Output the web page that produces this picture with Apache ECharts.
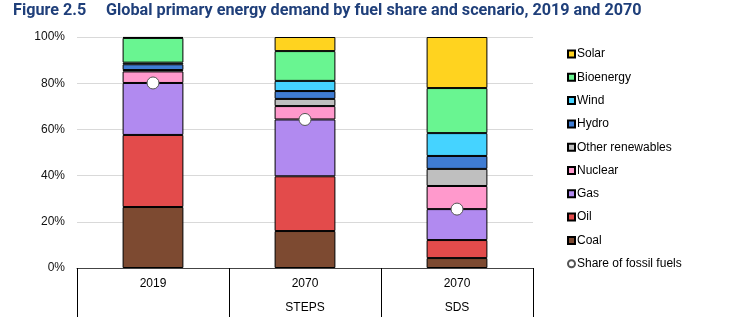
<!DOCTYPE html>
<html>
<head>
<meta charset="utf-8">
<script src="https://cdn.jsdelivr.net/npm/echarts@6/dist/echarts.min.js"></script>
<style>
html,body{margin:0;padding:0;background:#fff;}
#chart{width:733px;height:329px;}
</style>
</head>
<body>
<div id="chart"></div>
<script>
const categories = ['2019\n ', '2070\nSTEPS', '2070\nSDS'];
const coal = [26.4, 16.0, 4.3];
const oil = [31.2, 23.7, 7.8];
const gas = [22.5, 24.6, 13.4];
const nuclear = [5.0, 5.8, 10.0];
const otherRenewables = [0.6, 3.1, 7.4];
const hydro = [2.5, 3.4, 5.6];
const wind = [0.7, 4.4, 9.9];
const bioenergy = [10.7, 12.9, 19.5];
const solar = [0.4, 6.1, 22.1];
const fossilShare = [80.1, 64.3, 25.5];
const yTicks = [0, 20, 40, 60, 80, 100];

const stackDefs = [
  ['Coal', coal, '#7D4A31'],
  ['Oil', oil, '#E34B4B'],
  ['Gas', gas, '#B18AF0'],
  ['Nuclear', nuclear, '#FF99CC'],
  ['Other renewables', otherRenewables, '#BFBFBF'],
  ['Hydro', hydro, '#3F7CD3'],
  ['Wind', wind, '#45D3FF'],
  ['Bioenergy', bioenergy, '#69F591'],
  ['Solar', solar, '#FFD31F']
];

const series = stackDefs.map(([name, data, color]) => ({
  name, type: 'bar', stack: 'total', data, barWidth: '40%',
  itemStyle: { color, borderColor: '#000', borderWidth: 1 },
  emphasis: { disabled: true }
}));
series.push({
  name: 'Share of fossil fuels', type: 'scatter', data: fossilShare,
  symbol: 'circle', symbolSize: 12, z: 10,
  itemStyle: { color: '#fff', borderColor: '#555', borderWidth: 1, opacity: 1 },
  emphasis: { disabled: true }
});

const legendNames = ['Solar', 'Bioenergy', 'Wind', 'Hydro', 'Other renewables', 'Nuclear', 'Gas', 'Oil', 'Coal'];

const chart = echarts.init(document.getElementById('chart'), null, { renderer: 'canvas' });
chart.setOption({
  animation: false,
  title: [
    { text: 'Figure 2.5', left: 8, top: -2,
      textStyle: { fontFamily: 'Roboto', fontWeight: 'bold', fontSize: 16.2, color: '#1F3F7A' } },
    { text: 'Global primary energy demand by fuel share and scenario, 2019 and 2070', left: 101, top: -2,
      textStyle: { fontFamily: 'Roboto', fontWeight: 'bold', fontSize: 16.2, color: '#1F3F7A' } }
  ],
  grid: { left: 77, right: 200, top: 37, bottom: 61, containLabel: false },
  legend: {
    orient: 'vertical', left: 562, top: 42,
    itemWidth: 7, itemHeight: 7, itemGap: 9.3,
    textStyle: { fontFamily: 'Liberation Sans', fontSize: 12, color: '#000', lineHeight: 14, padding: [0, 0, 0, -3] },
    data: legendNames.map(n => ({ name: n, icon: 'rect' })).concat([{ name: 'Share of fossil fuels', icon: 'circle' }])
  },
  xAxis: {
    type: 'category', data: categories,
    axisLine: { lineStyle: { color: '#444', width: 1 } },
    axisTick: { show: true, alignWithLabel: false, interval: 0, length: 49, lineStyle: { color: '#000' } },
    axisLabel: { fontFamily: 'Liberation Sans', fontSize: 12, color: '#000', lineHeight: 24, margin: 4, interval: 0 }
  },
  yAxis: {
    type: 'value', min: 0, max: 100, interval: 20,
    axisLabel: { formatter: v => yTicks.includes(v) ? v + '%' : '', fontFamily: 'Liberation Sans', fontSize: 12, color: '#111', margin: 12 },
    splitLine: { lineStyle: { color: '#D9D9D9' } },
    axisLine: { show: false }, axisTick: { show: false }
  },
  series
});
</script>
</body>
</html>
